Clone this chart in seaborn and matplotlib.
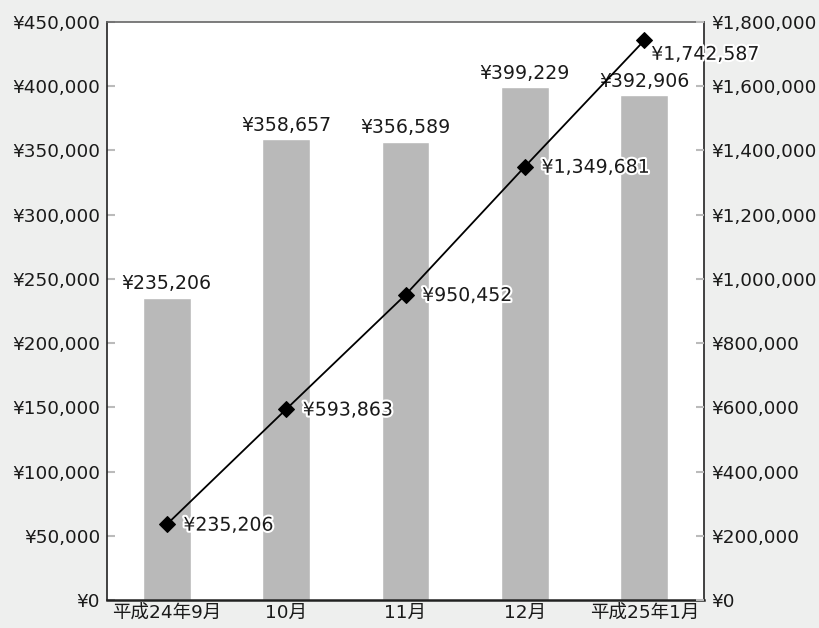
import matplotlib
matplotlib.use("Agg")
import matplotlib.pyplot as plt
import matplotlib.ticker as mticker
import matplotlib.patheffects as pe
import seaborn as sns
import pandas as pd
import numpy as np

categories = ["平成24年9月", "10月", "11月", "12月", "平成25年1月"]
monthly = [235206, 358657, 356589, 399229, 392906]
cumulative = [235206, 593863, 950452, 1349681, 1742587]

sns.set_theme(style="white")
plt.rcParams['font.family'] = ['DejaVu Sans', 'Noto Sans CJK JP']

df = pd.DataFrame({"month": categories, "monthly": monthly, "cumulative": cumulative})

FS = 13.2
TXT = "#1a1a1a"
fig = plt.figure(figsize=(8.19, 6.28), dpi=100, facecolor="#eeefee")
ax = fig.add_axes([107/819, 28/628, (704-107)/819, (600-22)/628])
ax.set_facecolor("white")

sns.barplot(data=df, x="month", y="monthly", color="#b9b9b9", width=0.4,
            saturation=1, ax=ax, zorder=2)
for i, v in enumerate(monthly):
    ax.text(i, v + 3500, f"¥{v:,}", ha="center", va="bottom", fontsize=13.6, color=TXT, zorder=5)

ax.set_ylim(0, 450000)
ax.set_xlim(-0.5, 4.5)
ax.yaxis.set_major_locator(mticker.MultipleLocator(50000))
ax.yaxis.set_major_formatter(mticker.FuncFormatter(lambda v, p: f"¥{int(v):,}"))
ax.set_xlabel("")
ax.set_ylabel("")
ax.set_xticks(range(5))
ax.set_xticklabels(categories, fontsize=13.3)
ax.set_xticks(np.arange(-0.5, 5, 1), minor=True)
ax.tick_params(axis="x", which="major", length=0, pad=3, colors=TXT)
ax.tick_params(axis="x", which="minor", direction="in", length=5, color="#aaaaaa", width=1)
ax.tick_params(axis="y", direction="in", length=6, color="#bbbbbb", width=1.5, labelsize=FS, labelcolor=TXT, pad=5)
for s in ax.spines.values():
    s.set_color("#222222")
    s.set_linewidth(1.2)
ax.spines["bottom"].set_linewidth(1.8)
ax.spines["top"].set_color("#666666")

ax2 = ax.twinx()
sns.lineplot(data=df, x="month", y="cumulative", color="black", marker="D", markersize=8,
             markeredgecolor="black", linewidth=1.3, ax=ax2, zorder=4, sort=False)
ax2.set_ylim(0, 1800000)
ax2.set_xlim(-0.5, 4.5)
ax2.yaxis.set_major_locator(mticker.MultipleLocator(200000))
ax2.yaxis.set_major_formatter(mticker.FuncFormatter(lambda v, p: f"¥{int(v):,}"))
ax2.tick_params(axis="y", direction="in", length=6, color="#bbbbbb", width=1.5, labelsize=FS, labelcolor=TXT, pad=5)
ax2.set_ylabel("")
ax2.set_xlabel("")
for s in ax2.spines.values():
    s.set_visible(False)
n = len(cumulative)
for i, v in enumerate(cumulative):
    off = (5, -10) if i == n - 1 else (12, -0.5)
    t = ax2.annotate(f"¥{v:,}", (i, v), xytext=off, textcoords="offset points",
                     ha="left", va="center", fontsize=13.6, color=TXT, zorder=6,
                     annotation_clip=False)
    t.set_path_effects([pe.withStroke(linewidth=3, foreground="white")])

fig.savefig("out.png", dpi=100, facecolor=fig.get_facecolor())
